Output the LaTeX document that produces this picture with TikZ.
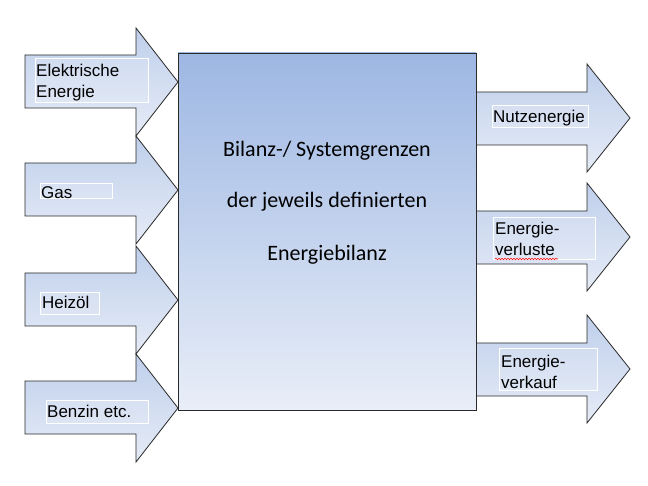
\documentclass[tikz,border=0pt]{standalone}
\usepackage{fontspec}
\setmainfont{Liberation Sans}
\newfontfamily\calibrifont{Carlito}
\usetikzlibrary{decorations.pathmorphing}
\definecolor{arrtop}{HTML}{BFCFEB}
\definecolor{arrbot}{HTML}{E6ECF7}
\definecolor{boxtop}{HTML}{9DB7E3}
\definecolor{boxbot}{HTML}{E9EEF8}
\definecolor{edge}{HTML}{2A2A2A}
\tikzset{
  blockarrow/.style={top color=arrtop, bottom color=arrbot, draw=edge, line width=0.8pt, line join=miter},
  lbl/.style={inner sep=0pt, anchor=base west, font=\fontsize{17}{21}\selectfont},
  tbox/.style={draw=white, line width=0.6pt, fill=white, fill opacity=0.15},
  maintext/.style={inner sep=0pt, anchor=base, font=\calibrifont\fontsize{22}{26}\selectfont}
}
\begin{document}
\begin{tikzpicture}[x=1pt,y=-1pt]
\useasboundingbox (0,0) rectangle (648,486);
\fill[white] (0,0) rectangle (648,486);
% left arrows
\foreach \c in {82,190,300,408}{
  \shadedraw[blockarrow] (25,\c-27) -- (136,\c-27) -- (136,\c-54) -- (178,\c) -- (136,\c+54) -- (136,\c+26) -- (25,\c+26) -- cycle;
}
% right arrows
\foreach \c in {118,237,369}{
  \shadedraw[blockarrow] (476,\c-26) -- (587,\c-26) -- (587,\c-54) -- (630,\c) -- (587,\c+54) -- (587,\c+27) -- (476,\c+27) -- cycle;
}
% main box
\shadedraw[top color=boxtop, bottom color=boxbot, draw=edge, line width=0.8pt] (178,53) rectangle (476,410);
\node[maintext] (m1) at (327,157) {Bilanz-/ Systemgrenzen};
\node[maintext] (m2) at (327,208) {der jeweils definierten};
\node[maintext] (m3) at (327,261) {Energiebilanz};
% text boxes
\draw[tbox] (35,58) rectangle (148,102);
\node[lbl] (e1) at (36,77) {Elektrische};
\node[lbl] (e2) at (36,98) {Energie};
\draw[tbox] (40,183) rectangle (112,198);
\node[lbl] (gas) at (41,199) {Gas};
\draw[tbox] (40,292) rectangle (99,314);
\node[lbl] (heiz) at (42,309) {Heizöl};
\draw[tbox] (46,400) rectangle (148,423);
\node[lbl] (benz) at (47,417) {Benzin etc.};
\draw[tbox] (492,105) rectangle (588,127);
\node[lbl] (nutz) at (493,123) {Nutzenergie};
\draw[tbox] (493,217) rectangle (595,259);
\node[lbl] (v1) at (495,235) {Energie-};
\node[lbl] (v2) at (495,256) {verluste};
\draw[red, line width=0.6pt, decorate, decoration={snake, segment length=3pt, amplitude=0.7pt}] (v2.base west)++(0,3) -- ++(63,0);
\draw[tbox] (499,348) rectangle (597,390);
\node[lbl] (k1) at (501,367) {Energie-};
\node[lbl] (k2) at (501,388) {verkauf};
\end{tikzpicture}
\end{document}
